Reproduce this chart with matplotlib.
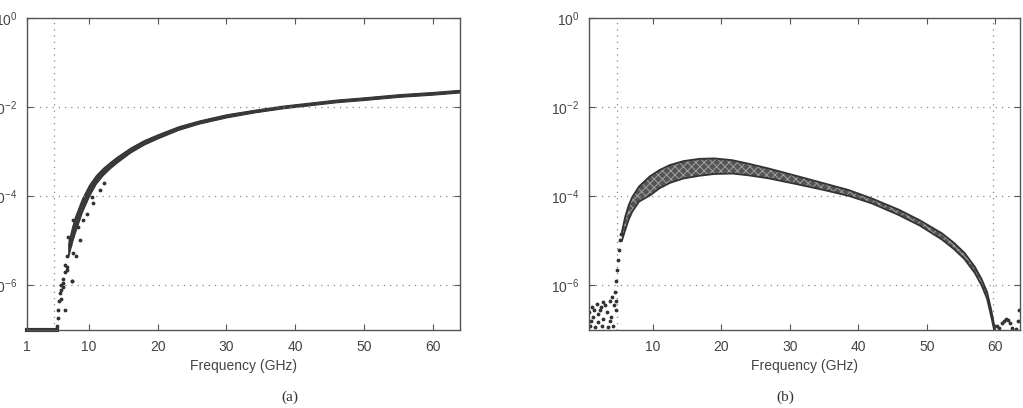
import numpy as np
import matplotlib
matplotlib.use("Agg")
import matplotlib.pyplot as plt

plt.rcParams["font.family"] = ["Liberation Sans", "DejaVu Sans"]
plt.rcParams["mathtext.fontset"] = "custom"
plt.rcParams["mathtext.rm"] = "Liberation Sans"
plt.rcParams["mathtext.it"] = "Liberation Sans:italic"
plt.rcParams["hatch.linewidth"] = 0.7

# ---- panel (a): band of traces, log10 values ----
a_freq = [7.0, 7.5, 8.0, 9.0, 10, 11, 12, 13, 14, 16, 18, 20, 23, 26, 30,
          34, 38, 42, 46, 50, 55, 60, 64]
a_upper = [-5.05, -4.72, -4.45, -4.05, -3.75, -3.53, -3.37, -3.24, -3.12,
           -2.91, -2.74, -2.61, -2.43, -2.30, -2.16, -2.06, -1.97, -1.90,
           -1.83, -1.78, -1.71, -1.66, -1.61]
a_lower = [-5.35, -5.05, -4.8, -4.35, -4.0, -3.72, -3.53, -3.38, -3.25,
           -3.02, -2.84, -2.70, -2.51, -2.37, -2.23, -2.12, -2.03, -1.96,
           -1.89, -1.84, -1.77, -1.72, -1.67]
# scattered points in the rising part of (a)
a_dot_f = [5.2, 5.4, 5.55, 5.55, 5.7, 5.8, 6.0, 6.3, 6.5, 6.5, 6.77, 6.77,
           7.0, 7.25, 7.5, 7.73, 6.3, 6.77, 7.5, 7.25, 7.73, 8.2, 8.46, 8.7,
           9.2, 9.7, 10.4, 10.6, 11.6, 12.2, 6.0, 5.9, 6.2, 6.6]
a_dot_y = [-6.97, -6.9, -6.74, -6.56, -6.34, -6.18, -6.0, -5.85, -5.55,
           -6.56, -5.66, -5.33, -4.91, -5.1, -5.89, -5.28, -6.04, -5.59,
           -5.89, -4.99, -4.54, -5.33, -4.69, -4.99, -4.54, -4.39, -4.01,
           -4.16, -3.85, -3.7, -6.1, -6.3, -5.95, -5.7]
a_floor_f = [1.0, 5.3]
a_cutoff = 4.9

# ---- panel (b) ----
b_freq = [5.5, 6.0, 6.5, 7.0, 8.0, 9.6, 11, 12.5, 14.5, 16.8, 19, 21.6, 24,
          27, 31.4, 35, 38.6, 42, 45.9, 49, 52.2, 54, 55.5, 57, 58, 58.8,
          59.4, 59.9]
b_upper = [-4.8, -4.45, -4.2, -4.02, -3.78, -3.55, -3.41, -3.30, -3.21,
           -3.16, -3.15, -3.19, -3.27, -3.38, -3.56, -3.71, -3.86, -4.05,
           -4.30, -4.54, -4.83, -5.05, -5.27, -5.58, -5.86, -6.15, -6.55,
           -6.95]
b_lower = [-5.0, -4.75, -4.52, -4.35, -4.12, -3.98, -3.82, -3.70, -3.60,
           -3.54, -3.50, -3.49, -3.53, -3.60, -3.74, -3.86, -3.99, -4.16,
           -4.42, -4.66, -4.97, -5.19, -5.41, -5.72, -6.0, -6.3, -6.70,
           -7.05]
# noise floor and rising edge points of (b)
b_dot_f = [0.85, 1.1, 1.3, 1.6, 1.8, 2.05, 2.3, 2.5, 2.8, 2.8, 3.3, 3.5,
           3.75, 3.75, 4.0, 4.2, 4.5, 4.7, 0.75, 1.0, 1.5, 2.0, 2.6, 3.1,
           3.9, 4.4, 4.6, 4.7, 4.8, 5.0, 5.1, 5.2, 5.35,
           60.2, 60.5, 61.0, 61.3, 61.6, 61.9, 62.2, 62.5, 63.0, 63.3, 63.5]
b_dot_y = [-6.9, -6.49, -6.71, -6.94, -6.41, -6.82, -6.56, -6.49, -6.37,
           -6.75, -6.6, -6.94, -6.34, -6.79, -6.26, -6.9, -6.15, -6.56,
           -6.6, -6.8, -6.55, -6.65, -6.9, -6.45, -6.7, -6.45, -6.35,
           -5.89, -5.66, -5.44, -5.21, -4.99, -4.85,
           -6.9, -6.95, -6.85, -6.8, -6.75, -6.78, -6.85, -6.95, -6.97,
           -6.8, -6.55]
b_cutoffs = [4.8, 59.6]

x_ticks_a = [1, 10, 20, 30, 40, 50, 60]
x_ticks_b = [10, 20, 30, 40, 50, 60]
y_ticks = [1e-6, 1e-4, 1e-2, 1e0]

ink = "#333333"
frame = "#555555"


def style_axes(ax, xlim, xticks):
    ax.set_yscale("log")
    ax.set_xlim(*xlim)
    ax.set_ylim(1e-7, 1e0)
    ax.set_xticks(xticks)
    ax.set_xticklabels([str(t) for t in xticks])
    ax.set_yticks(y_ticks)
    ax.yaxis.set_minor_locator(matplotlib.ticker.NullLocator())
    ax.yaxis.grid(True, linestyle=(0, (1, 4)), color="#888888", lw=0.9)
    ax.tick_params(direction="in", length=4, width=0.8, top=True, right=True,
                   colors=frame, labelcolor="#444444", labelsize=10, pad=7)
    for s in ax.spines.values():
        s.set_color(frame)
        s.set_linewidth(1.0)
    ax.set_xlabel("Frequency (GHz)", fontsize=10, color="#444444", labelpad=4)


fig = plt.figure(figsize=(10.23, 4.08), dpi=100)
ax1 = fig.add_axes([27 / 1023, 78 / 408, 433 / 1023, 312 / 408])
ax2 = fig.add_axes([589 / 1023, 78 / 408, 431 / 1023, 312 / 408])

# panel (a)
ax1.axvline(a_cutoff, linestyle=(0, (1, 4)), color="#888888", lw=0.9)
ax1.fill_between(a_freq, 10.0 ** np.array(a_upper), 10.0 ** np.array(a_lower),
                 color="#3a3a3a", lw=0.8, edgecolor="#333333")
ax1.plot(a_dot_f, 10.0 ** np.array(a_dot_y), ".", color=ink, ms=3.5)
ax1.plot(a_floor_f, [1e-7, 1e-7], color=ink, lw=3, clip_on=False)
style_axes(ax1, (1, 64), x_ticks_a)

# panel (b)
for c in b_cutoffs:
    ax2.axvline(c, linestyle=(0, (1, 4)), color="#888888", lw=0.9)
ax2.fill_between(b_freq, 10.0 ** np.array(b_upper), 10.0 ** np.array(b_lower),
                 facecolor="#555555", edgecolor="#a0a0a0", hatch="xxxx", lw=0)
ax2.plot(b_freq, 10.0 ** np.array(b_upper), color=ink, lw=1.3)
ax2.plot(b_freq, 10.0 ** np.array(b_lower), color=ink, lw=1.3)
ax2.plot(b_dot_f, 10.0 ** np.array(b_dot_y), ".", color=ink, ms=3.5)
style_axes(ax2, (0.7, 63.6), x_ticks_b)

fig.text(290 / 1023, 1 - 397 / 408, "(a)", family=["Liberation Serif", "DejaVu Serif"],
         fontsize=11, color="#333333", ha="center", va="center")
fig.text(785 / 1023, 1 - 397 / 408, "(b)", family=["Liberation Serif", "DejaVu Serif"],
         fontsize=11, color="#333333", ha="center", va="center")

fig.savefig("out.png", dpi=100)
